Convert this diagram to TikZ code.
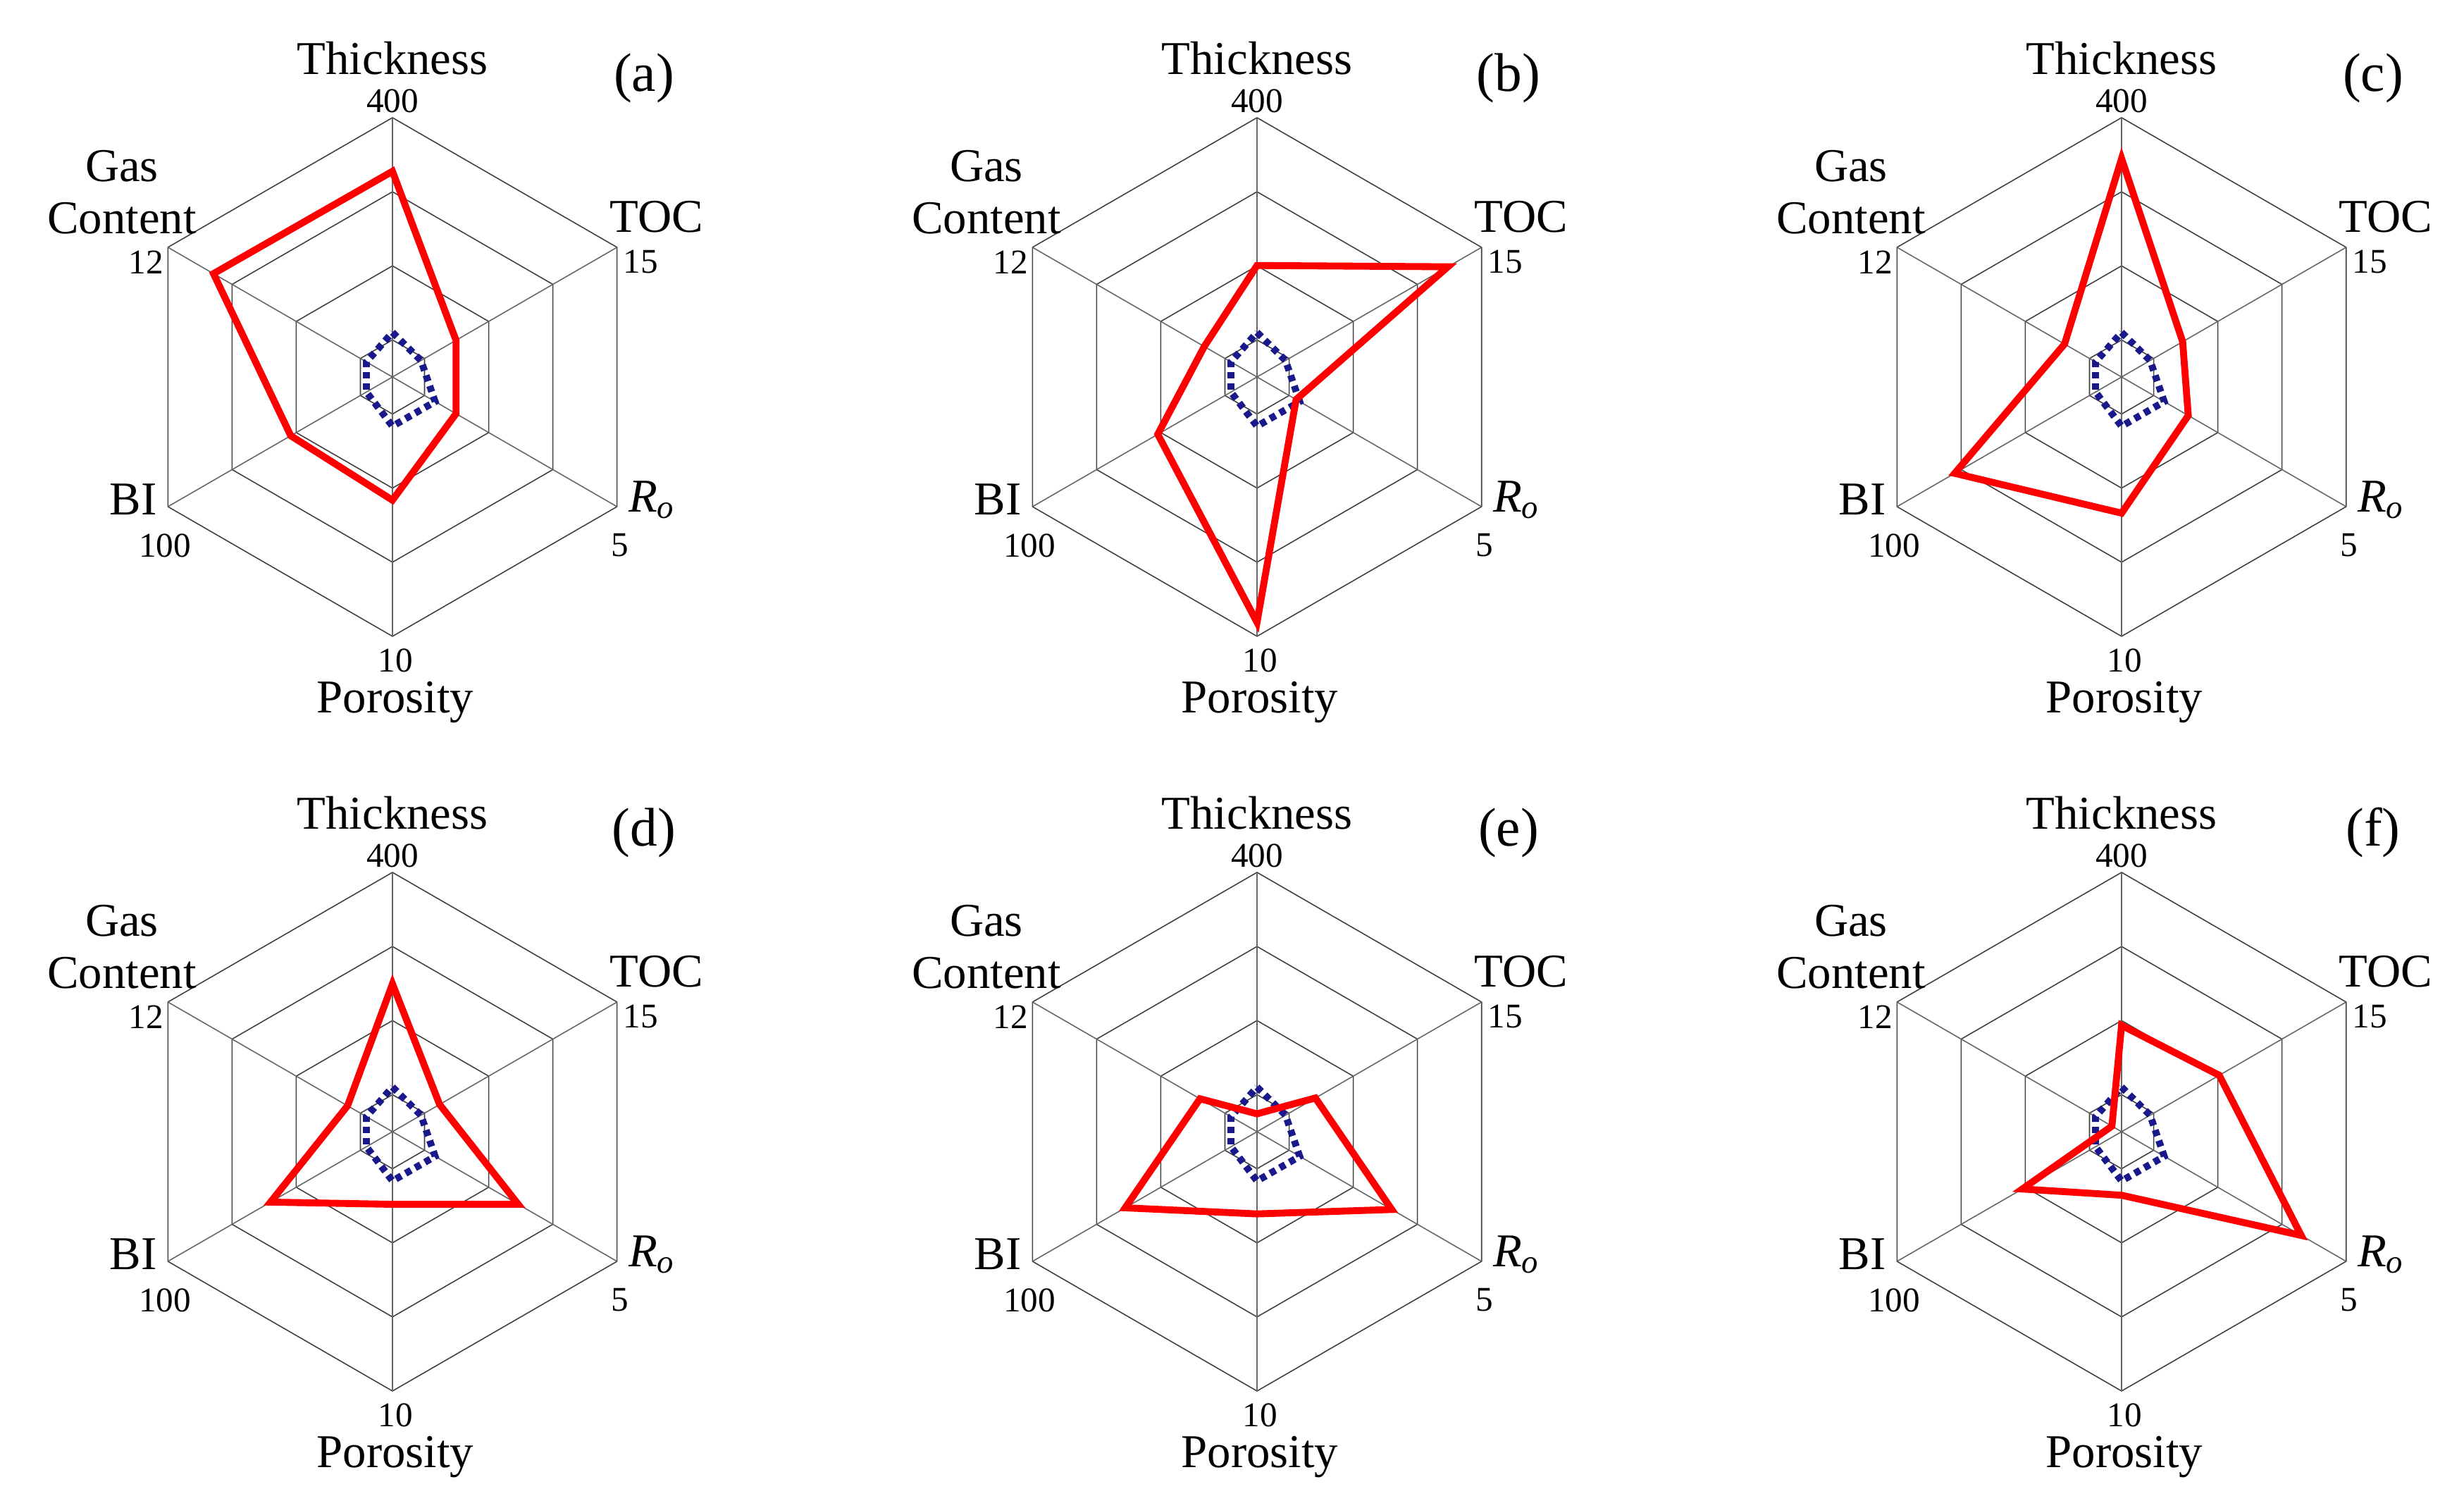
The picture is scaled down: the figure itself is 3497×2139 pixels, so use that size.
\documentclass[tikz,border=0pt]{standalone}
\usepackage{fontspec}
\setmainfont{Liberation Serif}
\begin{document}
\begin{tikzpicture}[x=0.1mm,y=0.1mm,
  grid/.style={draw=black!75,line width=0.45pt},
  spoke/.style={draw=black!60,line width=0.45pt},
  redline/.style={draw=red,line width=2.8pt,line join=miter},
  blueline/.style={draw={rgb,255:red,25;green,25;blue,140},line width=2.8pt,dash pattern=on 2.5pt off 2pt},
  axlab/.style={font=\fontsize{19}{21}\selectfont,align=center,inner sep=0.5pt},
  numlab/.style={font=\fontsize{14}{15}\selectfont,inner sep=0.5pt},
  panlab/.style={font=\fontsize{22}{26}\selectfont}]
\useasboundingbox (0,0) rectangle (3497,2139);
\newcommand\radarpanel[9]{%
\begin{scope}[shift={(#1,#2)}]
  \foreach \f in {0.142857,0.428571,0.714286,1}{
    \draw[grid] (90:\f*368) -- (30:\f*368) -- (-30:\f*368) -- (-90:\f*368) -- (-150:\f*368) -- (150:\f*368) -- cycle;}
  \foreach \a in {90,30,-30,-90,-150,150}{\draw[spoke] (0,0) -- (\a:368);}
  \draw[blueline] (90:0.172*368) -- (30:0.127*368) -- (-30:0.19*368) -- (-90:0.19*368) -- (-150:0.116*368) -- (150:0.116*368) -- cycle;
  \draw[redline] (90:#4*368) -- (30:#5*368) -- (-30:#6*368) -- (-90:#7*368) -- (-150:#8*368) -- (150:#9*368) -- cycle;
  \node[axlab] (th#3) at (0,452) {Thickness};
  \node[numlab] (n400#3) at (0,392) {400};
  \node[panlab] (pl#3) at (357,424) {(#3)};
  \node[axlab] (gc#3) at (-384,262) {Gas\\Content};
  \node[numlab] (n12#3) at (-350,163) {12};
  \node[axlab] (toc#3) at (375,227) {TOC};
  \node[numlab] (n15#3) at (352,163) {15};
  \node[axlab] (bi#3) at (-368,-174) {BI};
  \node[numlab] (n100#3) at (-323,-239) {100};
  \node[axlab] (ro#3) at (368,-174) {\textit{R}\textsubscript{\textit{o}}};
  \node[numlab] (n5#3) at (323,-239) {5};
  \node[numlab] (n10#3) at (4,-402) {10};
  \node[axlab] (po#3) at (4,-462) {Porosity};
\end{scope}}
\radarpanel{557}{1604}{a}{0.793}{0.283}{0.283}{0.475}{0.453}{0.797}
\radarpanel{1784}{1604}{b}{0.43}{0.85}{0.174}{0.946}{0.442}{0.235}
\radarpanel{3011}{1604}{c}{0.842}{0.272}{0.297}{0.525}{0.743}{0.254}
\radarpanel{557}{533}{d}{0.57}{0.21}{0.56}{0.28}{0.543}{0.2}
\radarpanel{1784}{533}{e}{0.069}{0.26}{0.6}{0.317}{0.587}{0.254}
\radarpanel{3011}{533}{f}{0.41}{0.435}{0.8}{0.245}{0.442}{0.043}
\end{tikzpicture}
\end{document}
